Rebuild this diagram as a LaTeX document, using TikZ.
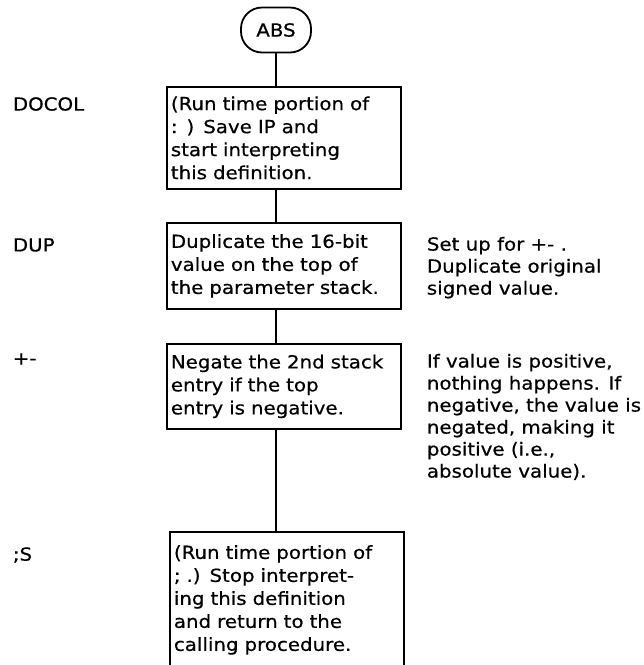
\documentclass[tikz,border=0pt]{standalone}
\usepackage{fontspec}
\setmainfont[FakeStretch=1.1, FakeBold=0.6]{DejaVu Sans}
\usetikzlibrary{positioning}

\begin{document}
\begin{tikzpicture}[x=1pt, y=-1pt, font=\fontsize{18}{23}\selectfont,
  line width=1.8pt,
  wordbox/.style={draw, anchor=north west, inner xsep=4pt, inner ysep=3pt,
    text width=226pt, align=left},
  wordlbl/.style={anchor=west, inner sep=0pt},
  wordnote/.style={anchor=north west, inner sep=0pt, align=left,
    font=\fontsize{18}{22}\selectfont}]

  \useasboundingbox (0,0) rectangle (644,665);

  % Start terminal
  \node[draw, rounded corners=21pt, minimum width=70pt, minimum height=45pt,
        inner sep=0pt] (abs) at (276,30) {ABS};

  % Word boxes
  \node[wordbox, minimum height=102pt] (docol) at (166,86)
    {(Run time portion of\\ : ) Save IP and\\ start interpreting\\
     this definition.};
  \node[wordbox, minimum height=86pt] (dup) at (166,222)
    {Duplicate the 16-bit\\ value on the top of\\ the parameter stack.};
  \node[wordbox, minimum height=85pt] (pm) at (166,343)
    {Negate the 2nd stack\\ entry if the top\\ entry is negative.};
  \node[wordbox, minimum height=136pt] (semis) at (169,531)
    {(Run time portion of\\ ; .) Stop interpret-\\ ing this definition\\
     and return to the\\ calling procedure.};

  % Word names
  \node[wordlbl] (lDocol) at (12,104) {DOCOL};
  \node[wordlbl] (lDup) at (12,245) {DUP};
  \node[wordlbl] (lPm) at (12,359) {+-};
  \node[wordlbl] (lSemis) at (12,555) {;S};

  % Comments
  \node[wordnote] (nDup) at (426,236)
    {Set up for +- .\\ Duplicate original\\ signed value.};
  \node[wordnote] (nPm) at (426,353)
    {If value is positive,\\ nothing happens. If\\ negative, the value is\\
     negated, making it\\ positive (i.e.,\\ absolute value).};

  \draw (abs.south) -- (abs.south |- docol.north);
  \draw (abs.south |- docol.south) -- (abs.south |- dup.north);
  \draw (abs.south |- dup.south) -- (abs.south |- pm.north);
  \draw (abs.south |- pm.south) -- (abs.south |- semis.north);

\end{tikzpicture}
\end{document}
